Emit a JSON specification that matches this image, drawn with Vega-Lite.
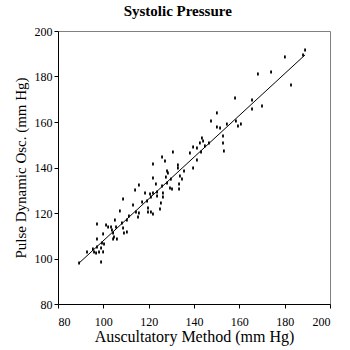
{
  "$schema": "https://vega.github.io/schema/vega-lite/v6.json",
  "autosize": "none",
  "width": 272,
  "height": 273,
  "padding": {"left": 58, "top": 31, "right": 20, "bottom": 46},
  "background": "white",
  "title": {"text": "Systolic Pressure", "font": "Liberation Serif", "fontSize": 15, "fontWeight": "bold", "color": "black", "anchor": "middle", "frame": "bounds", "offset": 6, "dx": 6},
  "config": {
    "view": {"stroke": "#808080", "strokeWidth": 1},
    "axis": {"grid": false, "domainColor": "black", "tickColor": "black", "labelColor": "black", "titleColor": "black", "labelFont": "Liberation Serif", "titleFont": "Liberation Serif", "labelFontSize": 12, "titleFontWeight": "normal", "tickSize": 4}
  },
  "datasets": {
    "points": [
      {"ausc": 189.0, "osc": 191.6}, {"ausc": 188.1, "osc": 189.5}, {"ausc": 180.1, "osc": 188.6}, {"ausc": 174.0, "osc": 182.0},
      {"ausc": 168.2, "osc": 181.1}, {"ausc": 182.8, "osc": 176.3}, {"ausc": 165.6, "osc": 169.7}, {"ausc": 165.6, "osc": 165.7},
      {"ausc": 170.0, "osc": 167.0}, {"ausc": 158.1, "osc": 170.5}, {"ausc": 150.1, "osc": 164.0}, {"ausc": 147.5, "osc": 160.4},
      {"ausc": 158.5, "osc": 160.4}, {"ausc": 160.7, "osc": 159.1}, {"ausc": 159.4, "osc": 158.2}, {"ausc": 150.1, "osc": 157.8},
      {"ausc": 151.5, "osc": 157.4}, {"ausc": 154.5, "osc": 159.1}, {"ausc": 152.8, "osc": 153.8}, {"ausc": 152.8, "osc": 150.8},
      {"ausc": 153.2, "osc": 147.3}, {"ausc": 143.5, "osc": 153.0}, {"ausc": 144.0, "osc": 151.6}, {"ausc": 142.6, "osc": 150.8},
      {"ausc": 144.8, "osc": 149.5}, {"ausc": 146.6, "osc": 150.8}, {"ausc": 143.1, "osc": 146.8}, {"ausc": 141.3, "osc": 148.6},
      {"ausc": 139.6, "osc": 149.0}, {"ausc": 141.3, "osc": 143.3}, {"ausc": 139.6, "osc": 139.8}, {"ausc": 138.2, "osc": 146.4},
      {"ausc": 130.7, "osc": 146.8}, {"ausc": 125.9, "osc": 144.6}, {"ausc": 127.2, "osc": 142.9}, {"ausc": 121.9, "osc": 141.5},
      {"ausc": 132.9, "osc": 141.1}, {"ausc": 132.9, "osc": 139.8}, {"ausc": 135.6, "osc": 138.5}, {"ausc": 128.5, "osc": 137.6},
      {"ausc": 128.1, "osc": 138.5}, {"ausc": 129.8, "osc": 134.9}, {"ausc": 133.8, "osc": 136.3}, {"ausc": 134.7, "osc": 134.9},
      {"ausc": 133.4, "osc": 132.7}, {"ausc": 123.2, "osc": 132.7}, {"ausc": 125.9, "osc": 131.9}, {"ausc": 128.1, "osc": 133.2},
      {"ausc": 123.7, "osc": 129.2}, {"ausc": 129.4, "osc": 131.0}, {"ausc": 130.3, "osc": 130.5}, {"ausc": 133.4, "osc": 130.5},
      {"ausc": 121.9, "osc": 128.8}, {"ausc": 121.0, "osc": 127.0}, {"ausc": 126.3, "osc": 128.8}, {"ausc": 126.3, "osc": 127.0},
      {"ausc": 125.4, "osc": 124.4}, {"ausc": 125.0, "osc": 121.8}, {"ausc": 121.9, "osc": 135.4}, {"ausc": 127.6, "osc": 135.8},
      {"ausc": 115.7, "osc": 132.3}, {"ausc": 114.0, "osc": 130.1}, {"ausc": 118.4, "osc": 128.8}, {"ausc": 120.6, "osc": 128.4},
      {"ausc": 123.7, "osc": 127.5}, {"ausc": 119.3, "osc": 125.3}, {"ausc": 117.1, "osc": 124.8}, {"ausc": 113.1, "osc": 123.5},
      {"ausc": 108.7, "osc": 126.2}, {"ausc": 107.3, "osc": 120.9}, {"ausc": 114.4, "osc": 120.4}, {"ausc": 119.7, "osc": 122.2},
      {"ausc": 119.7, "osc": 120.4}, {"ausc": 121.0, "osc": 120.4}, {"ausc": 121.9, "osc": 119.6}, {"ausc": 115.3, "osc": 118.2},
      {"ausc": 111.3, "osc": 118.7}, {"ausc": 110.4, "osc": 116.9}, {"ausc": 108.2, "osc": 115.6}, {"ausc": 105.1, "osc": 116.9},
      {"ausc": 105.6, "osc": 113.8}, {"ausc": 108.7, "osc": 113.4}, {"ausc": 110.4, "osc": 111.6}, {"ausc": 103.8, "osc": 112.5},
      {"ausc": 104.3, "osc": 111.2}, {"ausc": 104.7, "osc": 109.5}, {"ausc": 106.0, "osc": 108.6}, {"ausc": 104.3, "osc": 108.6},
      {"ausc": 115.7, "osc": 120.0}, {"ausc": 97.2, "osc": 115.2}, {"ausc": 101.2, "osc": 114.7}, {"ausc": 102.1, "osc": 113.8},
      {"ausc": 103.4, "osc": 113.8}, {"ausc": 99.9, "osc": 110.8}, {"ausc": 109.1, "osc": 111.2}, {"ausc": 97.2, "osc": 108.6},
      {"ausc": 99.4, "osc": 106.8}, {"ausc": 100.3, "osc": 106.4}, {"ausc": 97.2, "osc": 105.1}, {"ausc": 95.4, "osc": 104.2},
      {"ausc": 95.9, "osc": 102.9}, {"ausc": 92.8, "osc": 102.9}, {"ausc": 96.8, "osc": 102.4}, {"ausc": 99.0, "osc": 104.6},
      {"ausc": 99.9, "osc": 102.9}, {"ausc": 98.1, "osc": 102.9}, {"ausc": 99.0, "osc": 98.5}, {"ausc": 89.3, "osc": 98.0}
    ],
    "fit": [
      {"ausc": 89.3, "osc": 98.0},
      {"ausc": 189.0, "osc": 189.5}
    ]
  },
  "layer": [
    {
      "data": {"name": "fit"},
      "mark": {"type": "line", "color": "black", "strokeWidth": 1},
      "encoding": {
        "x": {"field": "ausc", "type": "quantitative"},
        "y": {"field": "osc", "type": "quantitative"}
      }
    },
    {
      "data": {"name": "points"},
      "mark": {"type": "point", "shape": "M-0.6,-1H0.6V1H-0.6Z", "filled": true, "size": 9, "color": "black", "opacity": 1},
      "encoding": {
        "x": {"field": "ausc", "type": "quantitative", "scale": {"domain": [80, 200], "nice": false, "zero": false}, "axis": {"values": [80, 100, 120, 140, 160, 180, 200], "title": "Auscultatory Method (mm Hg)", "titleFontSize": 16, "labelPadding": 8, "titlePadding": 1}},
        "y": {"field": "osc", "type": "quantitative", "scale": {"domain": [80, 200], "nice": false, "zero": false}, "axis": {"values": [80, 100, 120, 140, 160, 180, 200], "title": "Pulse Dynamic Osc. (mm Hg)", "titleFontSize": 15, "labelPadding": 2, "titlePadding": 6}}
      }
    }
  ]
}
